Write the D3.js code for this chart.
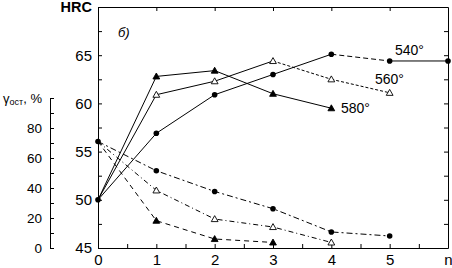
<!DOCTYPE html>
<html><head><meta charset="utf-8">
<script src="https://cdn.jsdelivr.net/npm/d3@7"></script>
<style>
html,body{margin:0;padding:0;background:#fff;}
svg{display:block;font-family:"Liberation Sans",Arial,sans-serif;}
</style></head>
<body>
<svg id="c" width="452" height="268"></svg>
<script>
// ---- data ----
const nValues = [0, 1, 2, 3, 4, 5, 6];
const xTickLabels = ["0", "1", "2", "3", "4", "5", "n"];
const hrcTicks = [45, 50, 55, 60, 65];
const gammaTicks = [0, 20, 40, 60, 80];
const seriesNames = ["540°", "560°", "580°"];
// HRC (solid lines, right-hand scale)
const hrc540 = [50, 56.9, 60.9, 63.0, 65.1, 64.4, 64.4];
const hrc560 = [50, 60.9, 62.3, 64.4, 62.5, 61.1];
const hrc580 = [50, 62.8, 63.4, 61.0, 59.5];
// residual austenite γост, % (dashed lines, left scale)
const gam540 = [71, 51.5, 37.7, 26.2, 10.7, 8];
const gam560 = [71, 38.4, 19.3, 14, 3.7];
const gam580 = [71, 18.2, 6, 3.7];

// ---- styles (separate from data) ----
const hrcSegDash = [
  [null, null, null, null, "5,3", null],
  [null, null, null, "3,2", "3,2"],
  [null, null, null, null]
];
const gamDash = ["6,3,2,3", "5,3,1,3", "5,4"];
const markerKind = ["circle", "open", "tri"];

const svg = d3.select("#c");
const x = d3.scaleLinear().domain([0, 6]).range([98, 448]);
const y = d3.scaleLinear().domain([45, 70]).range([248, 7]);
const g = d3.scaleLinear().domain([0, 100]).range([248, 98]);

svg.append("rect").attr("width", 452).attr("height", 268).attr("fill", "#fff");

function styleAxis(sel, fs) {
  sel.selectAll("path.domain").attr("stroke", "#000").attr("stroke-width", 1);
  sel.selectAll(".tick line").attr("stroke", "#000");
  sel.selectAll("text").attr("fill", "#000").style("font-size", fs + "px")
     .style("font-family", '"Liberation Sans",Arial,sans-serif');
}

const half = d3.range(45, 70.01, 2.5);
// left HRC axis
const axL = svg.append("g").attr("transform", "translate(98,0)")
  .call(d3.axisLeft(y).tickValues(half).tickSizeInner(-4).tickSizeOuter(0).tickPadding(6)
    .tickFormat(d => hrcTicks.includes(d) ? d : ""));
styleAxis(axL, 15);
// right axis
const axR = svg.append("g").attr("transform", "translate(448,0)")
  .call(d3.axisRight(y).tickValues(half).tickSizeInner(-4).tickSizeOuter(0).tickFormat(""));
styleAxis(axR, 15);
// top axis
const axT = svg.append("g").attr("transform", "translate(0,7)")
  .call(d3.axisTop(x).tickValues([1, 2, 3, 4, 5]).tickSizeInner(-4).tickSizeOuter(0).tickFormat(""));
styleAxis(axT, 15);
// bottom axis
const axB = svg.append("g").attr("transform", "translate(0,248)")
  .call(d3.axisBottom(x).tickValues(d3.range(0, 6.01, 0.5)).tickSizeInner(-4).tickSizeOuter(0).tickPadding(6)
    .tickFormat(d => Number.isInteger(d) ? xTickLabels[d] : ""));
styleAxis(axB, 15);
// gamma axis
const axG = svg.append("g").attr("transform", "translate(50,0)")
  .call(d3.axisLeft(g).tickValues(d3.range(0, 100.01, 10)).tickSizeInner(-4).tickSizeOuter(0).tickPadding(8)
    .tickFormat(d => gammaTicks.includes(d) ? d : ""));
styleAxis(axG, 13.5);

// axis titles
svg.append("text").attr("x", 92).attr("y", 12).attr("text-anchor", "end")
  .style("font-size", "14.5px").style("font-weight", "bold").text("HRC");
const gt = svg.append("text").attr("x", 42).attr("y", 103).attr("text-anchor", "end")
  .style("font-size", "13px");
gt.append("tspan").text("γ");
gt.append("tspan").attr("dy", 2).style("font-size", "9px").text("ост");
gt.append("tspan").attr("dy", -2).text(",  %");
svg.append("text").attr("x", 118).attr("y", 37).style("font-size", "13px")
  .style("font-style", "italic").text("б)");

// series
const hrcSets = [hrc540, hrc560, hrc580];
const gamSets = [gam540, gam560, gam580];

function marker(sel, kind, px, py) {
  if (kind === "circle") {
    sel.append("circle").attr("cx", px).attr("cy", py).attr("r", 2.8).attr("fill", "#000");
  } else {
    const s = 3.4;
    sel.append("path")
      .attr("d", `M${px},${py - s}L${px + s},${py + s * 0.75}L${px - s},${py + s * 0.75}Z`)
      .attr("fill", kind === "open" ? "#fff" : "#000").attr("stroke", "#000").attr("stroke-width", 0.9);
  }
}

const lines = svg.append("g");
const marks = svg.append("g");
hrcSets.forEach((arr, si) => {
  for (let i = 0; i < arr.length - 1; i++) {
    const l = lines.append("line")
      .attr("x1", x(nValues[i])).attr("y1", y(arr[i]))
      .attr("x2", x(nValues[i + 1])).attr("y2", y(arr[i + 1]))
      .attr("stroke", "#000").attr("stroke-width", 1);
    if (hrcSegDash[si][i]) l.attr("stroke-dasharray", hrcSegDash[si][i]);
  }
});
gamSets.forEach((arr, si) => {
  lines.append("path")
    .attr("d", d3.line().x((d, i) => x(nValues[i])).y(d => g(d))(arr))
    .attr("fill", "none").attr("stroke", "#000").attr("stroke-width", 1)
    .attr("stroke-dasharray", gamDash[si]);
});
hrcSets.forEach((arr, si) => {
  arr.forEach((v, i) => { if (i > 0) marker(marks, markerKind[si], x(nValues[i]), y(v)); });
});
gamSets.forEach((arr, si) => {
  arr.forEach((v, i) => { if (i > 0) marker(marks, markerKind[si], x(nValues[i]), g(v)); });
});
marker(marks, "circle", x(0), y(50));
marker(marks, "circle", x(0), g(gam540[0]));

// series labels
const labelPos = [[395, 55], [375, 84], [341, 113]];
seriesNames.forEach((t, i) => {
  svg.append("text").attr("x", labelPos[i][0]).attr("y", labelPos[i][1])
    .style("font-size", "14px").text(t);
});
</script>
</body></html>
